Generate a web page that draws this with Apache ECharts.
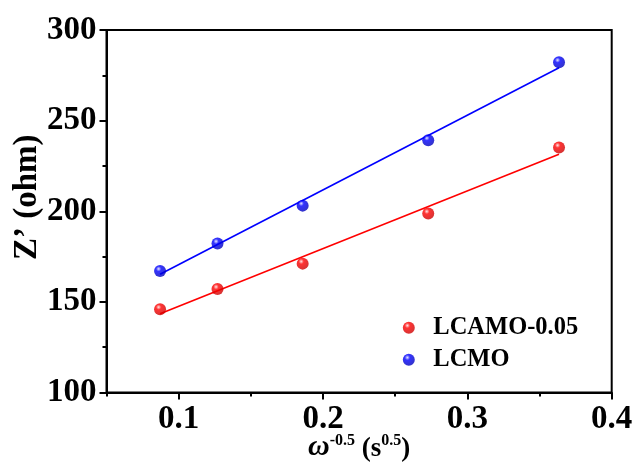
<!DOCTYPE html>
<html><head><meta charset="utf-8">
<script src="https://cdn.jsdelivr.net/npm/echarts@6/dist/echarts.min.js"></script>
<style>html,body{margin:0;padding:0;background:#fff}#c{width:635px;height:464px}</style>
</head><body><div id="c"></div>
<script>
const xValues = [0.0871, 0.1269, 0.1859, 0.2729, 0.3635];
const lcamoValues = [145.9, 157.1, 171.1, 198.7, 235.2];
const lcmoValues = [167.0, 182.2, 203.1, 239.2, 282.2];
const fitX = [0.0871, 0.3635];
const lcamoFit = [143.5, 231.5];
const lcmoFit = [165.2, 279.2];
const xMajorTicks = [0.1, 0.2, 0.3, 0.4];
const xMinorTicks = [0.05, 0.15, 0.25, 0.35];
const seriesNames = ['LCAMO-0.05', 'LCMO'];

const FONT = "'Liberation Serif', 'Times New Roman', serif";
const pair = (xs, ys) => xs.map((x, i) => [x, ys[i]]);
const ball = (hi, mid, dark) => ({
  type: 'radial', x: 0.38, y: 0.32, r: 0.72,
  colorStops: [{offset: 0, color: hi}, {offset: 0.3, color: mid}, {offset: 1, color: dark}]
});
const redBall = ball('#ffe0e0', '#ff0000', '#c80000');
const blueBall = ball('#e0e0ff', '#0000ff', '#0000b8');

const chart = echarts.init(document.getElementById('c'), null, {renderer: 'canvas'});
chart.setOption({
  animation: false,
  backgroundColor: '#fff',
  grid: {left: 106.5, right: 23.3, top: 30, bottom: 71.5, show: true, borderColor: '#000', borderWidth: 2,
         containLabel: false, outerBoundsMode: 'none'},
  legend: {
    orient: 'vertical', left: 402.8, top: 315.2, padding: 0,
    itemWidth: 39, itemHeight: 12, itemGap: 7,
    data: seriesNames,
    textStyle: {fontFamily: FONT, fontWeight: 'bold', fontSize: 24.5, lineHeight: 24, color: '#000'}
  },
  xAxis: [{
    type: 'value', min: 0.05, max: 0.4,
    axisLine: {lineStyle: {color: '#000', width: 2}},
    axisTick: {show: true, customValues: xMajorTicks, length: 7, lineStyle: {color: '#000', width: 2}},
    axisLabel: {customValues: xMajorTicks, fontFamily: FONT, fontWeight: 'bold', fontSize: 33, color: '#000', margin: 10},
    splitLine: {show: false},
    name: '{w|ω}{sup|-0.5}{n| (s}{sup|0.5}{n|)}',
    nameLocation: 'middle', nameGap: 40, nameMoveOverlap: false,
    nameTextStyle: {
      rich: {
        w: {fontFamily: FONT, fontStyle: 'italic', fontWeight: 'bold', fontSize: 30, color: '#000', lineHeight: 30, verticalAlign: 'bottom'},
        n: {fontFamily: FONT, fontWeight: 'bold', fontSize: 27, color: '#000', lineHeight: 30, verticalAlign: 'bottom'},
        sup: {fontFamily: FONT, fontWeight: 'bold', fontSize: 16, color: '#000', lineHeight: 16, verticalAlign: 'top'}
      }
    }
  }, {
    type: 'value', min: 0.05, max: 0.4, position: 'bottom',
    axisLine: {show: false},
    axisTick: {show: true, customValues: xMinorTicks, length: 4, lineStyle: {color: '#000', width: 2}},
    axisLabel: {show: false},
    splitLine: {show: false}
  }],
  yAxis: {
    type: 'value', min: 100, max: 300, interval: 50,
    axisLine: {show: true, lineStyle: {color: '#000', width: 2}},
    axisTick: {show: true, length: 7, lineStyle: {color: '#000', width: 2}},
    minorTick: {show: true, splitNumber: 2, length: 4, lineStyle: {color: '#000', width: 2}},
    axisLabel: {fontFamily: FONT, fontWeight: 'bold', fontSize: 33, color: '#000', margin: 10},
    splitLine: {show: false},
    name: 'Z\u2019 (ohm)', nameLocation: 'middle', nameGap: 63, nameMoveOverlap: false,
    nameTextStyle: {fontFamily: FONT, fontWeight: 'bold', fontSize: 33, color: '#000', padding: [0, 0, 0, 28]}
  },
  series: [
    {name: 'LCAMO-0.05 fit', type: 'line', data: pair(fitX, lcamoFit), showSymbol: false, symbol: 'none',
     lineStyle: {color: '#ff0000', width: 1.6}, silent: true, z: 2},
    {name: 'LCMO fit', type: 'line', data: pair(fitX, lcmoFit), showSymbol: false, symbol: 'none',
     lineStyle: {color: '#0000ff', width: 1.6}, silent: true, z: 2},
    {name: seriesNames[0], type: 'scatter', data: pair(xValues, lcamoValues), symbolSize: 12,
     itemStyle: {color: redBall}, z: 3},
    {name: seriesNames[1], type: 'scatter', data: pair(xValues, lcmoValues), symbolSize: 12,
     itemStyle: {color: blueBall}, z: 3}
  ]
});
</script></body></html>
